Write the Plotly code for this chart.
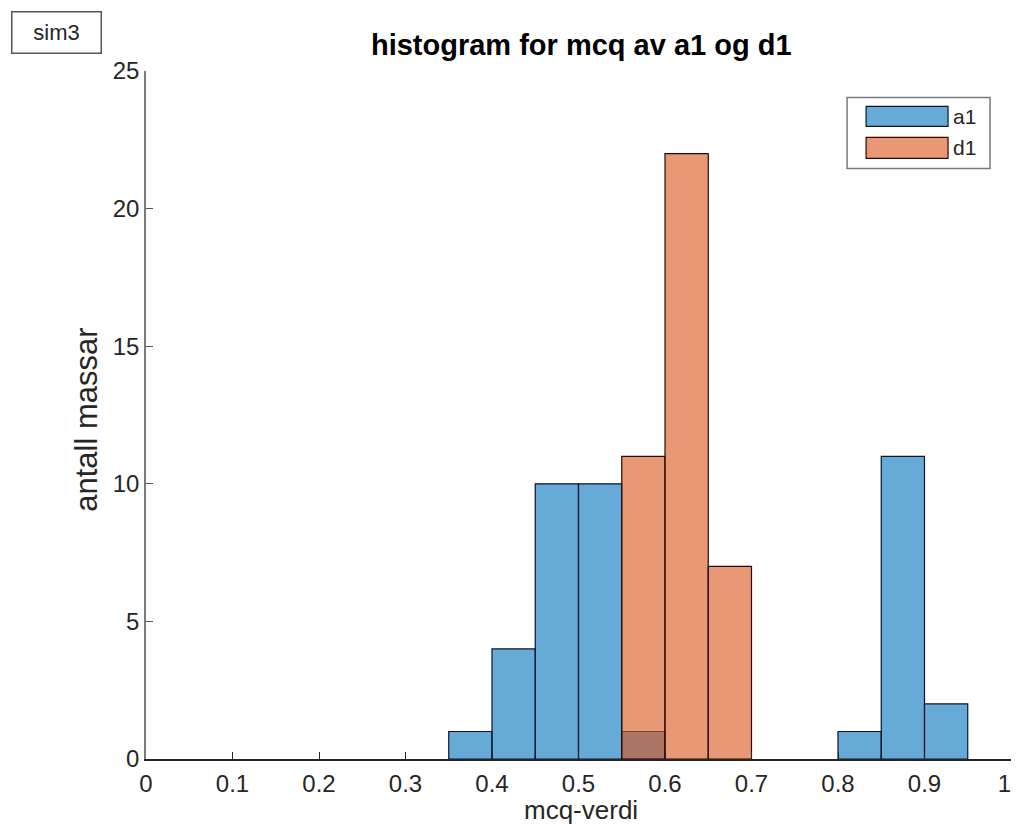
import plotly.graph_objects as go

bin_width = 0.05
a1_left = [0.35, 0.40, 0.45, 0.50, 0.55, 0.80, 0.85, 0.90]
a1_counts = [1, 4, 10, 10, 1, 1, 11, 2]
d1_left = [0.55, 0.60, 0.65]
d1_counts = [11, 22, 7]
series_names = ["a1", "d1"]
x_ticks = [0, 0.1, 0.2, 0.3, 0.4, 0.5, 0.6, 0.7, 0.8, 0.9, 1]
x_tick_text = ["0", "0.1", "0.2", "0.3", "0.4", "0.5", "0.6", "0.7", "0.8", "0.9", "1&nbsp;&nbsp;"]
y_ticks = [0, 5, 10, 15, 20, 25]

font = "Liberation Sans, Arial, sans-serif"
txt = "#262626"
blue = "rgba(0,114,189,0.6)"
orange = "rgba(217,83,25,0.6)"

OFF = 8  # page body margin in the browser
# figure sized so the page does not overflow the 1019x836 window (no scrollbars)
W, H = 1019 - 2 * OFF, 836 - 2 * OFF - 2
# target positions in window pixels -> figure pixels
L, R, T, B = 145.5 - OFF, W, 70.5 - OFF, 759 - OFF


def fx(px):
    return (px - OFF - L) / (R - L)


def fy(py):
    return (B - (py - OFF)) / (B - T)


fig = go.Figure()
fig.add_trace(go.Bar(
    x=[l + bin_width / 2 for l in a1_left], y=a1_counts, width=bin_width,
    name=series_names[0],
    marker=dict(color=blue, line=dict(color="rgb(10,20,40)", width=1.2)),
))
fig.add_trace(go.Bar(
    x=[l + bin_width / 2 for l in d1_left], y=d1_counts, width=bin_width,
    name=series_names[1],
    marker=dict(color=orange, line=dict(color="rgb(40,10,5)", width=1.2)),
))

fig.update_layout(
    width=W, height=H,
    barmode="overlay",
    showlegend=False,
    plot_bgcolor="white", paper_bgcolor="white",
    margin=dict(l=L, r=0, t=T, b=H - B),
    font=dict(family=font, size=22, color=txt),
    title=dict(text="<b>histogram for mcq av a1 og d1</b>", x=fx(581), xref="paper",
               xanchor="center", y=1 - (45 - OFF) / H, yanchor="middle",
               font=dict(size=29, color="black")),
    xaxis=dict(range=[0, 1], tickvals=x_ticks, ticktext=x_tick_text, ticks="inside",
               ticklen=7, tickcolor=txt, showgrid=False, zeroline=False,
               showline=True, linecolor="#262626", linewidth=1.5, automargin=False,
               ticklabelstandoff=2, ticklabeloverflow="allow",
               tickfont=dict(size=24, color=txt)),
    yaxis=dict(range=[0, 25], tickvals=y_ticks, ticks="inside", ticklen=7,
               tickcolor="#555", showgrid=False, zeroline=False,
               showline=True, linecolor="#7a7a7a", linewidth=1.5, automargin=False,
               tickfont=dict(size=24, color=txt)),
)

# axis titles
fig.add_annotation(text="mcq-verdi", xref="paper", yref="paper", x=fx(581), y=fy(810),
                   xanchor="center", yanchor="middle", showarrow=False,
                   font=dict(size=26, color=txt))
fig.add_annotation(text="antall massar", xref="paper", yref="paper", x=fx(86), y=fy(420),
                   xanchor="center", yanchor="middle", showarrow=False, textangle=-90,
                   font=dict(size=31, color=txt))

# sim3 box
fig.add_annotation(
    text="sim3", xref="paper", yref="paper", x=fx(55.5), y=fy(31.5),
    xanchor="center", yanchor="middle", showarrow=False,
    width=86, height=38, borderpad=1, bordercolor="#555", borderwidth=1.5, bgcolor="white",
    font=dict(size=22, color=txt),
)

# legend (drawn as box + swatches)
fig.add_shape(type="rect", xref="paper", yref="paper", x0=fx(847), x1=fx(990),
              y0=fy(168), y1=fy(97), line=dict(color="#7a7a7a", width=1.5),
              fillcolor="white", layer="above")
sw = [(106, 126, blue, "rgb(10,20,40)"), (137, 158, orange, "rgb(40,10,5)")]
for (ytop, ybot, col, edge), name in zip(sw, series_names):
    fig.add_shape(type="rect", xref="paper", yref="paper", x0=fx(866), x1=fx(948),
                  y0=fy(ybot), y1=fy(ytop), line=dict(color=edge, width=1.2),
                  fillcolor=col, layer="above")
    fig.add_annotation(text=name, xref="paper", yref="paper", x=fx(951), y=fy((ytop + ybot) / 2),
                       xanchor="left", yanchor="middle", showarrow=False,
                       font=dict(size=21, color=txt))

fig.write_html("out.html")
